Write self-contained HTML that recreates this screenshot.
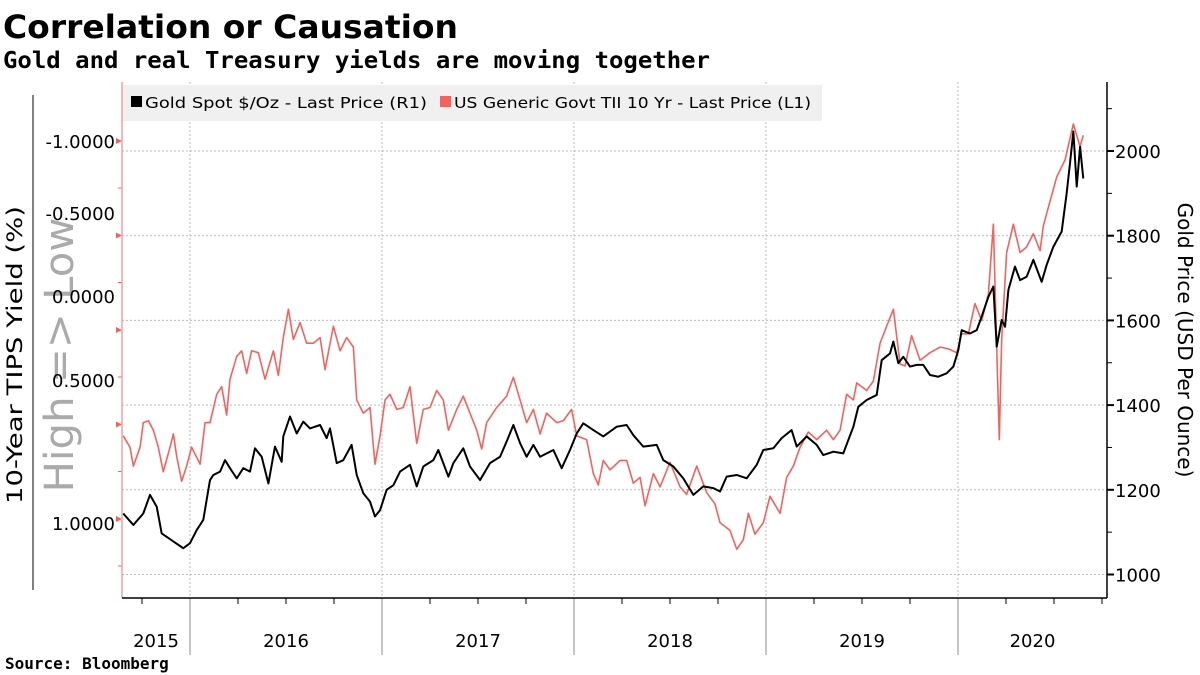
<!DOCTYPE html>
<html><head><meta charset="utf-8"><style>
body{margin:0;background:#fff;}
svg{display:block;font-family:"Liberation Sans","DejaVu Sans",sans-serif;}
</style></head><body>
<svg id="chart" width="1200" height="675" viewBox="0 0 1200 675">
<text x="3" y="38" font-size="32" font-weight="bold" font-family="DejaVu Sans, sans-serif" textLength="455" lengthAdjust="spacingAndGlyphs">Correlation or Causation</text>
<text x="3" y="68" font-size="23" font-weight="bold" font-family="DejaVu Sans Mono, Liberation Mono, monospace" textLength="707" lengthAdjust="spacingAndGlyphs">Gold and real Treasury yields are moving together</text>
<text transform="translate(73,355) rotate(-90)" text-anchor="middle" font-size="40" fill="#aaaaaa" font-family="DejaVu Sans, sans-serif" textLength="275" lengthAdjust="spacingAndGlyphs">High =&gt; Low</text>
<g id="grid"></g>
<rect x="122" y="85" width="700" height="36" fill="#f0f0f0"/>
<rect x="131" y="96" width="11" height="11" fill="#000"/>
<text x="145" y="108" font-size="15" font-family="DejaVu Sans, sans-serif" textLength="282" lengthAdjust="spacingAndGlyphs">Gold Spot $/Oz - Last Price (R1)</text>
<rect x="440" y="96" width="11" height="11" fill="#f4625e"/>
<text x="454" y="108" font-size="15" font-family="DejaVu Sans, sans-serif" textLength="357" lengthAdjust="spacingAndGlyphs">US Generic Govt TII 10 Yr - Last Price (L1)</text>
<g id="axes"></g>
<g id="series"></g>
<text transform="translate(22,355) rotate(-90)" text-anchor="middle" font-size="21" font-family="DejaVu Sans, sans-serif" textLength="298" lengthAdjust="spacingAndGlyphs">10-Year TIPS Yield (%)</text>
<text transform="translate(1178,340) rotate(90)" text-anchor="middle" font-size="20" font-family="DejaVu Sans, sans-serif">Gold Price (USD Per Ounce)</text>
<text x="5" y="669" font-size="16" font-weight="bold" font-family="DejaVu Sans Mono, Liberation Mono, monospace">Source: Bloomberg</text>
</svg>
<script>
const goldMonths=[7.83,8.46,9.08,9.5,9.92,10.23,10.96,11.58,12.0,12.42,12.83,13.25,13.46,13.88,14.19,14.5,14.92,15.33,15.75,16.06,16.48,16.9,17.31,17.73,17.83,18.25,18.67,19.08,19.5,20.13,20.54,20.75,21.17,21.58,22.1,22.42,22.83,23.25,23.56,23.88,24.29,24.71,25.13,25.75,26.17,26.58,27.21,27.52,27.83,28.15,28.46,29.08,29.5,30.13,30.75,31.38,31.79,32.21,32.63,33.04,33.46,33.88,34.71,35.23,35.75,36.17,36.58,37.21,37.83,38.67,39.29,39.71,40.33,41.17,41.58,42.21,42.83,43.46,44.08,44.71,45.13,45.54,46.17,46.79,47.42,47.83,48.46,48.98,49.6,49.92,50.54,51.17,51.58,52.21,52.83,53.46,53.77,54.29,54.92,55.23,55.75,55.96,56.27,56.58,57.0,57.42,57.83,58.25,58.77,59.29,59.71,60.02,60.23,60.75,61.17,61.48,61.9,62.21,62.42,62.73,62.94,63.15,63.56,63.88,64.29,64.71,65.23,65.54,65.96,66.48,66.79,67.0,67.21,67.42,67.63,67.83];
const goldValues=[1144,1117,1144,1188,1160,1097,1078,1062,1074,1105,1129,1223,1235,1243,1270,1251,1227,1251,1243,1298,1278,1215,1302,1266,1326,1373,1333,1361,1345,1353,1322,1345,1263,1270,1306,1235,1192,1172,1137,1152,1200,1211,1243,1259,1208,1255,1270,1294,1263,1231,1263,1298,1255,1223,1263,1278,1314,1353,1310,1278,1306,1278,1294,1251,1294,1333,1357,1341,1326,1349,1353,1329,1302,1306,1270,1255,1227,1188,1208,1204,1196,1231,1235,1227,1259,1294,1298,1322,1341,1302,1326,1306,1282,1290,1286,1349,1396,1412,1424,1506,1522,1550,1499,1514,1491,1495,1495,1471,1467,1475,1491,1530,1577,1569,1577,1609,1656,1680,1538,1601,1585,1672,1727,1695,1703,1743,1691,1731,1774,1810,1900,1971,2046,1916,2010,1935];
const tipsMonths=[7.83,8.25,8.46,8.88,9.08,9.4,9.71,10.02,10.33,10.75,10.96,11.17,11.48,11.79,12.1,12.63,12.94,13.25,13.67,13.98,14.29,14.5,14.92,15.23,15.54,15.85,16.27,16.69,17.21,17.52,17.83,18.15,18.46,18.88,19.29,19.71,20.13,20.44,20.96,21.38,21.79,22.21,22.42,22.83,23.25,23.56,23.88,24.19,24.5,24.92,25.33,25.75,26.17,26.58,27.0,27.42,27.83,28.15,28.67,29.08,29.5,29.92,30.23,30.54,31.17,31.79,32.21,32.63,33.04,33.46,33.88,34.29,34.92,35.33,35.85,36.17,36.79,37.21,37.52,37.83,38.25,38.88,39.29,39.71,40.13,40.44,40.96,41.38,42.0,42.63,43.04,43.67,44.29,44.81,45.13,45.75,46.17,46.58,46.9,47.31,47.83,48.25,48.88,49.29,49.71,50.13,50.65,51.17,51.79,52.21,52.63,53.04,53.46,53.67,54.29,54.71,55.13,55.54,55.96,56.38,56.69,57.1,57.63,58.25,58.88,59.4,59.92,60.23,60.65,61.06,61.48,61.9,62.21,62.42,62.58,62.73,63.04,63.46,63.88,64.29,64.71,65.13,65.33,65.65,66.17,66.69,67.21,67.63,67.83];
const tipsValues=[0.56,0.62,0.72,0.62,0.49,0.48,0.53,0.62,0.75,0.62,0.55,0.67,0.80,0.72,0.62,0.71,0.49,0.49,0.34,0.30,0.45,0.26,0.14,0.11,0.23,0.11,0.12,0.26,0.11,0.24,0.04,-0.11,0.05,-0.04,0.07,0.07,0.04,0.21,-0.02,0.11,0.04,0.09,0.37,0.44,0.41,0.71,0.56,0.37,0.34,0.42,0.41,0.30,0.60,0.42,0.41,0.32,0.37,0.53,0.42,0.35,0.44,0.53,0.63,0.49,0.41,0.35,0.25,0.37,0.49,0.42,0.55,0.44,0.49,0.48,0.42,0.56,0.58,0.76,0.82,0.69,0.74,0.69,0.69,0.81,0.78,0.93,0.76,0.83,0.70,0.83,0.87,0.72,0.86,0.92,1.02,1.06,1.16,1.11,0.97,1.08,1.02,0.88,0.97,0.78,0.72,0.62,0.54,0.58,0.53,0.58,0.53,0.34,0.37,0.28,0.32,0.27,0.07,-0.02,-0.11,0.18,0.19,0.03,0.16,0.12,0.09,0.10,0.12,0.02,0.02,-0.14,-0.05,-0.19,-0.56,0.09,0.58,0.05,-0.41,-0.56,-0.41,-0.44,-0.51,-0.42,-0.55,-0.65,-0.81,-0.90,-1.09,-0.97,-1.03];
const goldTicks=[1000,1200,1400,1600,1800,2000];
const tipsTicks=[-1.0,-0.5,0.0,0.5,1.0];
const tipsTickLabels=["-1.0000","-0.5000","0.0000","0.5000","1.0000"];
const tipsLabelY=[141,213,296,380,523];
const yearLabels=["2015","2016","2017","2018","2019","2020"];

const NS="http://www.w3.org/2000/svg";
const PL=122,PR=1107,PB=598,PT=82;
const xScale=m=>-2+m*16;
const yGold=v=>151+(2000-v)*0.4235;
const yTips=v=>141+(v+1)*189;
function mk(tag,attrs,parent){const e=document.createElementNS(NS,tag);for(const k in attrs)e.setAttribute(k,attrs[k]);parent.appendChild(e);return e;}
const grid=document.getElementById('grid'),axes=document.getElementById('axes'),series=document.getElementById('series');

goldTicks.forEach(t=>{
  const y=yGold(t);
  const g=mk('line',{x1:PL,x2:PR,y1:y,y2:y,stroke:'#bbb','stroke-dasharray':'2,2','stroke-width':1},grid);
  
  
  const tk=mk('line',{x1:PR,x2:PR+7,y1:y,y2:y,stroke:'#000','stroke-width':2},axes);
  
  
  const lb=mk('text',{x:PR+8,y:y+7,'font-size':18,'font-family':'DejaVu Sans, sans-serif'},axes);
  lb.textContent=t;
  
  
  const mt=mk('line',{x1:PR,x2:PR+5,y1:y-42.35,y2:y-42.35,stroke:'#000','stroke-width':1},axes);
  
  
});
tipsTicks.forEach((t,i)=>{
  const y=yTips(t);
  const tk=mk('path',{d:`M${PL} ${y}l-6 -3v6z`,fill:'#f4625e'},axes);
  
  
  const mt=mk('line',{x1:PL-4,x2:PL,y1:y+47,y2:y+47,stroke:'#f4625e','stroke-width':1},axes);
  
  
  const lb=mk('text',{x:PL-7,y:tipsLabelY[i]+7,'text-anchor':'end','font-size':18,'font-family':'DejaVu Sans, sans-serif'},axes);
  lb.textContent=tipsTickLabels[i];
  
  
});
for(let yr=1;yr<=5;yr++){
  const x=xScale(yr*12);
  const g=mk('line',{x1:x,x2:x,y1:PT,y2:PB,stroke:'#bbb','stroke-dasharray':'2,2','stroke-width':1},grid);
  
  
  const t=mk('line',{x1:x,x2:x,y1:PB,y2:655,stroke:'#888','stroke-width':1},axes);
  
  
}
for(let q=9;q<=69;q+=3){
  if(q%12===0)continue;
  const x=xScale(q);
  const t=mk('line',{x1:x,x2:x,y1:PB,y2:PB+6,stroke:'#000','stroke-width':1},axes);
  
  
}
yearLabels.forEach((s,i)=>{
  const x0=Math.max(PL,xScale(i*12)),x1=Math.min(PR,xScale(i*12+12));
  const lb=mk('text',{x:(x0+x1)/2,y:647,'text-anchor':'middle','font-size':18,'font-family':'DejaVu Sans, sans-serif'},axes);
  lb.textContent=s;
  
  
});
const la=mk('line',{x1:PL,x2:PL,y1:PT,y2:PB,stroke:'#f4a09e','stroke-width':1.5},axes);


const ra=mk('line',{x1:PR,x2:PR,y1:PT,y2:PB,stroke:'#000','stroke-width':1.5},axes);


const ba=mk('line',{x1:PL,x2:PR,y1:PB,y2:PB,stroke:'#000','stroke-width':1.5},axes);


const ol=mk('line',{x1:33,x2:33,y1:95,y2:590,stroke:'#000','stroke-width':1},axes);



const tp=mk('polyline',{points:tipsMonths.map((m,i)=>xScale(m)+','+yTips(tipsValues[i])).join(' '),fill:'none',stroke:'#f4625e','stroke-width':1.6,'stroke-linejoin':'round'},series);


const gp=mk('polyline',{points:goldMonths.map((m,i)=>xScale(m)+','+yGold(goldValues[i])).join(' '),fill:'none',stroke:'#000','stroke-width':2,'stroke-linejoin':'round'},series);


</script>
</body></html>
